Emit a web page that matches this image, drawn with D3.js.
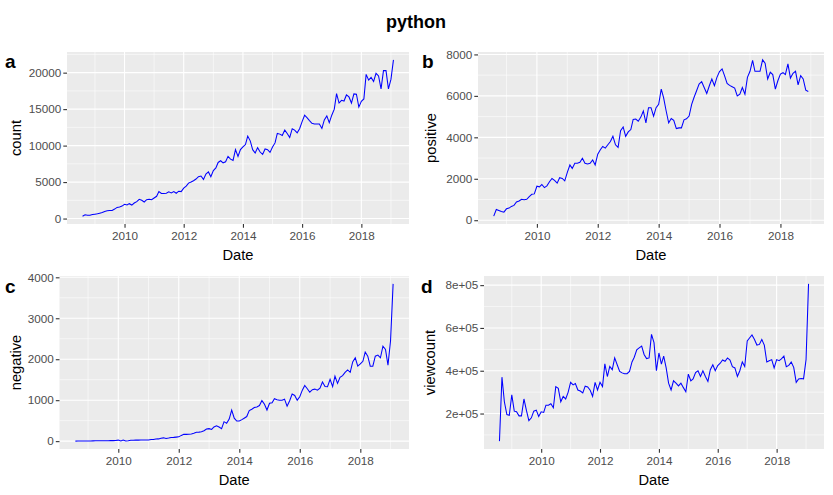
<!DOCTYPE html>
<html>
<head>
<meta charset="utf-8">
<script src="https://cdn.jsdelivr.net/npm/d3@7"></script>
<style>
  body { margin: 0; background: #fff; }
  svg { font-family: "Liberation Sans", Arial, sans-serif; }
</style>
</head>
<body>
<div id="chart"></div>
<script>
// monthly series, first month Aug 2008
var startMonth = "2008-08-01";

var countVals = [325,510,460,460,555,600,650,740,830,970,1065,1110,1110,1300,1530,1575,1710,
  1945,1850,2040,1850,2130,2315,2640,2500,2270,2590,2640,2590,2820,3050,3700,3430,3430,3470,3660,3520,3700,3470,3750,3700,
  4170,4440,4860,5000,5185,5420,5740,5830,5370,6110,6390,5740,6570,6945,7690,7920,7640,7780,8520,8150,7960,
  9445,8520,9445,9815,10140,11300,10650,9445,8980,9720,9120,8800,9540,9445,9075,9815,10370,11670,11575,11390,12130,11670,11110,12315,12130,11760,12315,
  13290,14170,13845,13430,13060,12965,12965,12965,12360,13520,14075,13150,14170,15000,17130,15835,16205,16110,16945,16670,15835,17085,17040,15280,16065,16390,19770,18980,19350,18800,19910,19540,17780,20280,20280,17780,19075,21760];

var positiveVals = [195,520,470,420,390,550,585,665,715,880,925,1010,990,1010,1140,1250,1270,
  1640,1610,1725,1575,1660,1855,2015,1920,1790,2050,2015,1900,
  2310,2665,2500,2750,2750,2795,2990,2750,2715,2750,2910,2665,
  3190,3400,3560,3480,3640,3800,4050,3640,3510,4325,4500,4050,4260,4375,4860,4880,4780,4975,5270,4700,5430,
  5430,5025,5430,5590,
  6325,5920,5270,4700,4910,4815,4420,4455,4455,4845,4895,5025,5590,5920,6245,6570,6685,6405,6115,6490,6815,6490,6895,
  7170,7300,6975,6600,6505,6440,6375,6000,6080,6405,6080,6895,7185,7710,7185,7185,7185,7740,7575,6815,7140,7025,6325,6730,7055,7120,7025,7545,6860,7090,7185,6535,6975,6815,6275,6210];

var negativeVals = [0,2,3,3,4,5,5,6,7,8,8,10,10,11,12,13,14,
  25,5,25,5,10,20,20,25,25,28,28,30,28,
  40,42,50,55,72,80,65,75,90,92,98,105,140,165,165,170,175,190,215,220,230,255,295,305,285,
  345,375,345,305,475,435,540,760,
  560,490,490,525,560,600,745,780,820,835,870,990,900,760,925,935,1035,1010,1000,1000,1025,855,985,1150,1115,1000,
  1085,1245,1360,1280,1195,1255,1270,1245,1295,1445,1335,1330,1510,1330,1585,1410,1560,1600,1680,1740,1680,
  1935,2035,1830,1885,1950,2175,2075,1830,1830,2075,2100,2035,2320,2240,1855,2450,3840];

var viewVals = [71000,370000,255000,195000,192000,287000,211000,208000,189000,189000,268000,216000,167000,180000,211000,216000,186000,
  208000,205000,239000,239000,246000,227000,326000,318000,255000,280000,268000,299000,346000,334000,340000,310000,305000,296000,328000,324000,309000,280000,346000,310000,346000,326000,
  432000,373000,420000,405000,460000,428000,397000,390000,386000,386000,397000,441000,463000,498000,507000,515000,476000,457000,460000,570000,531000,400000,
  483000,431000,468000,413000,342000,310000,353000,342000,329000,342000,321000,302000,384000,353000,362000,391000,400000,373000,400000,373000,350000,
  405000,428000,400000,424000,435000,450000,444000,460000,450000,419000,413000,373000,400000,441000,420000,
  539000,554000,567000,546000,520000,523000,546000,520000,441000,447000,452000,413000,452000,447000,455000,468000,419000,425000,441000,416000,
  346000,362000,364000,362000,452000,806000];

var yearTicks = [2010, 2012, 2014, 2016, 2018];
var countTicks = [0, 5000, 10000, 15000, 20000];
var positiveTicks = [0, 2000, 4000, 6000, 8000];
var negativeTicks = [0, 1000, 2000, 3000, 4000];
var viewTicks = [200000, 400000, 600000, 800000];

var W = 833, H = 495;
var svg = d3.select("#chart").append("svg").attr("width", W).attr("height", H);

svg.append("text").attr("x", 416).attr("y", 28).attr("text-anchor", "middle")
  .attr("font-size", 18).attr("font-weight", "bold").text("python");

var parse = d3.timeParse("%Y-%m-%d");
function toSeries(vals) {
  var months = d3.timeMonth.range(parse(startMonth), d3.timeMonth.offset(parse(startMonth), vals.length));
  return vals.map(function (v, i) { return { date: months[i], value: v }; });
}

function panel(opt) {
  var data = toSeries(opt.values);
  var g = svg.append("g");
  var ext = d3.extent(data, function (d) { return d.date; });
  var span = ext[1] - ext[0];
  var x = d3.scaleTime()
    .domain([new Date(+ext[0] - span * 0.05), new Date(+ext[1] + span * 0.05)])
    .range([opt.x0, opt.x1]);
  var yext = d3.extent(data, function (d) { return d.value; });
  var yspan = yext[1] - yext[0];
  var y = d3.scaleLinear().domain([yext[0] - yspan * 0.05, yext[1] + yspan * 0.05]).range([opt.y1, opt.y0]);

  g.append("rect").attr("x", opt.x0).attr("y", opt.y0)
    .attr("width", opt.x1 - opt.x0).attr("height", opt.y1 - opt.y0).attr("fill", "#EBEBEB");

  // minor grid
  var yStep = opt.yTicks[1] - opt.yTicks[0];
  var yMinor = [];
  for (var v = opt.yTicks[0] - yStep / 2; v <= y.domain()[1]; v += yStep) {
    if (v >= y.domain()[0]) yMinor.push(v);
  }
  var xMinor = [2009, 2011, 2013, 2015, 2017, 2019].map(function (yr) { return new Date(yr, 0, 1); })
    .filter(function (d) { return d >= x.domain()[0] && d <= x.domain()[1]; });
  g.selectAll(".ymin").data(yMinor).enter().append("line")
    .attr("x1", opt.x0).attr("x2", opt.x1)
    .attr("y1", function (d) { return y(d); }).attr("y2", function (d) { return y(d); })
    .attr("stroke", "#fff").attr("stroke-width", 0.55);
  g.selectAll(".xmin").data(xMinor).enter().append("line")
    .attr("y1", opt.y0).attr("y2", opt.y1)
    .attr("x1", function (d) { return x(d); }).attr("x2", function (d) { return x(d); })
    .attr("stroke", "#fff").attr("stroke-width", 0.55);

  // major grid
  var xMajor = yearTicks.map(function (yr) { return new Date(yr, 0, 1); });
  g.selectAll(".ymaj").data(opt.yTicks).enter().append("line")
    .attr("x1", opt.x0).attr("x2", opt.x1)
    .attr("y1", function (d) { return y(d); }).attr("y2", function (d) { return y(d); })
    .attr("stroke", "#fff").attr("stroke-width", 1.1);
  g.selectAll(".xmaj").data(xMajor).enter().append("line")
    .attr("y1", opt.y0).attr("y2", opt.y1)
    .attr("x1", function (d) { return x(d); }).attr("x2", function (d) { return x(d); })
    .attr("stroke", "#fff").attr("stroke-width", 1.1);

  // axes
  var xAxis = d3.axisBottom(x).tickValues(xMajor).tickFormat(d3.timeFormat("%Y"))
    .tickSize(3.7).tickPadding(4);
  var yAxis = d3.axisLeft(y).tickValues(opt.yTicks).tickFormat(opt.fmt)
    .tickSize(3.7).tickPadding(2);
  var gx = g.append("g").attr("transform", "translate(0," + opt.y1 + ")").call(xAxis);
  var gy = g.append("g").attr("transform", "translate(" + opt.x0 + ",0)").call(yAxis);
  [gx, gy].forEach(function (a) {
    a.select(".domain").remove();
    a.selectAll(".tick line").attr("stroke", "#333333").attr("stroke-width", 1.1);
    a.selectAll(".tick text").attr("fill", "#4D4D4D").attr("font-size", 11.7)
      .attr("font-family", "Liberation Sans, Arial, sans-serif");
  });

  // line
  var line = d3.line().x(function (d) { return x(d.date); }).y(function (d) { return y(d.value); });
  g.append("path").datum(data).attr("d", line)
    .attr("fill", "none").attr("stroke", "#0000FF").attr("stroke-width", 1.05);

  // titles
  g.append("text").attr("x", (opt.x0 + opt.x1) / 2).attr("y", opt.y1 + 36)
    .attr("text-anchor", "middle").attr("font-size", 14.7).text("Date");
  g.append("text").attr("transform", "translate(" + opt.ytx + "," + ((opt.y0 + opt.y1) / 2) + ")rotate(-90)")
    .attr("text-anchor", "middle").attr("font-size", 14.7).attr("dy", "0.35em").text(opt.ylab);
  g.append("text").attr("x", opt.lx).attr("y", opt.ly).attr("font-size", 19)
    .attr("font-weight", "bold").text(opt.tag);
}

var plain = d3.format("d");
panel({ values: countVals, yTicks: countTicks, fmt: plain, ylab: "count", tag: "a",
  x0: 67, x1: 409, y0: 52, y1: 224, ytx: 16, lx: 5, ly: 68 });
panel({ values: positiveVals, yTicks: positiveTicks, fmt: plain, ylab: "positive", tag: "b",
  x0: 478, x1: 824, y0: 52, y1: 224, ytx: 431, lx: 422, ly: 68 });
panel({ values: negativeVals, yTicks: negativeTicks, fmt: plain, ylab: "negative", tag: "c",
  x0: 59.5, x1: 409, y0: 276, y1: 449, ytx: 16, lx: 5, ly: 293 });
panel({ values: viewVals, yTicks: viewTicks, fmt: function (v) { return (v / 1e5) + "e+05"; },
  ylab: "viewcount", tag: "d", x0: 484, x1: 824, y0: 276, y1: 449, ytx: 430, lx: 421, ly: 293 });
</script>
</body>
</html>
